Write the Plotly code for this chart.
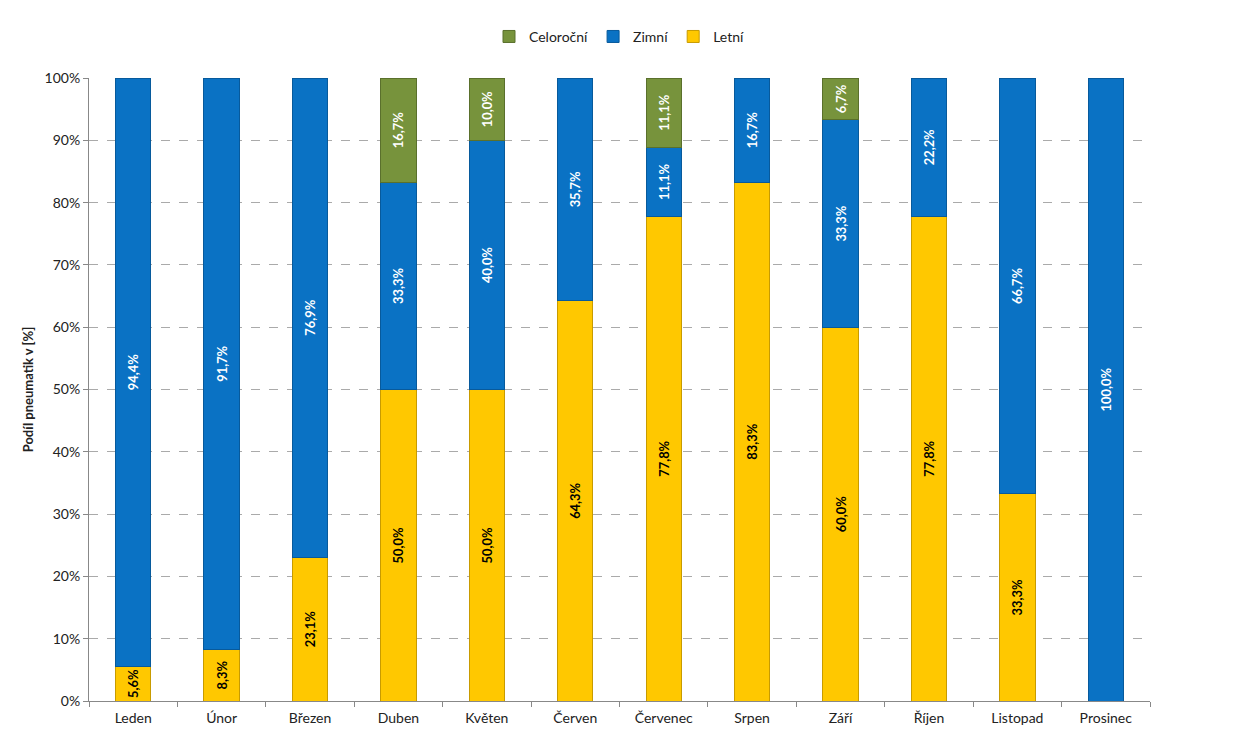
import plotly.graph_objects as go

months = ["Leden", "Únor", "Březen", "Duben", "Květen", "Červen", "Červenec",
          "Srpen", "Září", "Říjen", "Listopad", "Prosinec"]
letni = [5.6, 8.3, 23.1, 50.0, 50.0, 64.3, 77.8, 83.3, 60.0, 77.8, 33.3, 0]
zimni = [94.4, 91.7, 76.9, 33.3, 40.0, 35.7, 11.1, 16.7, 33.3, 22.2, 66.7, 100.0]
celorocni = [0, 0, 0, 16.7, 10.0, 0, 11.1, 0, 6.7, 0, 0, 0]

FONT = "Lato, 'Open Sans', sans-serif"

def labels(vals):
    return [("<b>%.1f%%</b>" % v).replace(".", ",") if v > 0 else "" for v in vals]

series = [
    ("Letní", letni, "#FFC800", "#C89B00", "black"),
    ("Zimní", zimni, "#0A72C4", "#075A9C", "white"),
    ("Celoroční", celorocni, "#77933C", "#5A702C", "white"),
]

fig = go.Figure()
for name, vals, col, edge, tcol in series:
    fig.add_trace(go.Bar(
        x=months, y=[v if v > 0 else None for v in vals], name=name,
        marker=dict(color=col, line=dict(color=edge, width=1)),
        text=labels(vals), textposition="inside", insidetextanchor="middle",
        textangle=-90, textfont=dict(color=tcol, size=13, family=FONT),
        width=0.4,
    ))

fig.update_layout(
    barmode="stack",
    width=1251, height=732,
    margin=dict(l=81, r=109, t=70, b=39),
    paper_bgcolor="white", plot_bgcolor="white",
    font=dict(family=FONT, size=14, color="#222"),
    separators=",.",
    uniformtext=dict(minsize=12, mode="show"),
    legend=dict(orientation="h", x=0.5, xanchor="center", y=1.066, yanchor="middle",
                traceorder="reversed", font=dict(size=14), itemwidth=30),
    xaxis=dict(showline=True, linecolor="#888", linewidth=1, ticks="outside",
               tickson="boundaries", ticklen=5, tickcolor="#888",
               ticklabelstandoff=4,
               tickfont=dict(size=14), showgrid=False),
    yaxis=dict(range=[0, 100], dtick=10, ticksuffix="%", showline=True,
               linecolor="#888", linewidth=1, ticks="outside", ticklen=5,
               tickcolor="#888", showgrid=True, gridcolor="#AAAAAA",
               griddash="dash", gridwidth=1, tickfont=dict(size=14),
               title=dict(text="<b>Podíl pneumatik v [%]</b>", font=dict(size=13), standoff=8)),
)

fig.write_html("out.html")
